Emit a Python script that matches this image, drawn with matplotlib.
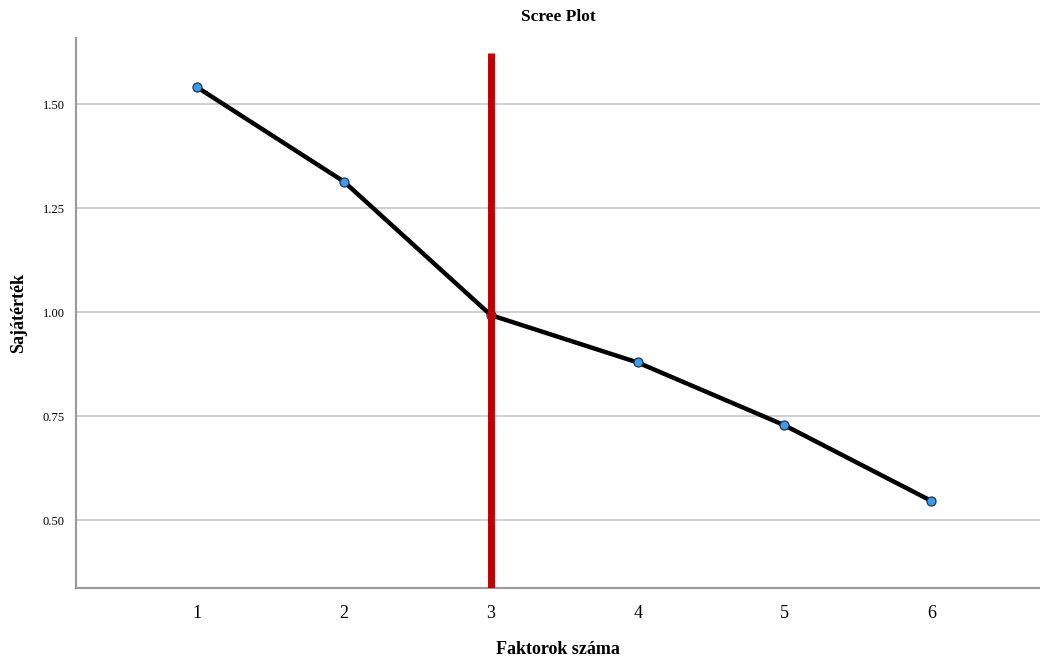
import matplotlib
matplotlib.use("Agg")
import matplotlib.pyplot as plt

factors = [1, 2, 3, 4, 5, 6]
eigenvalues = [1.541, 1.314, 0.993, 0.879, 0.728, 0.546]
cutoff_factor = 3
yticks = [0.50, 0.75, 1.00, 1.25, 1.50]
ytick_labels = ["0.50", "0.75", "1.00", "1.25", "1.50"]

plt.rcParams['font.family'] = ['Liberation Serif', 'DejaVu Serif']

fig = plt.figure(figsize=(10.4, 6.58), dpi=100)
ax = fig.add_axes([0.073, 0.106, 0.927, 0.836])

ax.set_xlim(0.175, 6.74)
ax.set_ylim(0.336, 1.659)

ax.set_yticks(yticks)
ax.set_yticklabels(ytick_labels, fontsize=9)
ax.set_xticks(factors)
ax.set_xticklabels([str(f) for f in factors], fontsize=13)
ax.tick_params(axis='both', length=0, pad=8)
ax.tick_params(axis='x', pad=12)

ax.grid(axis='y', color='#cccccc', linewidth=1.3)
ax.set_axisbelow(True)

for s in ['top', 'right']:
    ax.spines[s].set_visible(False)
for s in ['left', 'bottom']:
    ax.spines[s].set_color('#999999')
    ax.spines[s].set_linewidth(1.5)

ax.plot(factors, eigenvalues, color='black', linewidth=3.2, zorder=3,
        marker='o', markersize=6.5, markerfacecolor='#3d9be9',
        markeredgecolor='#1f3550', markeredgewidth=0.9)

ax.vlines(cutoff_factor, 0.336, 1.623, color='#c00000', linewidth=5, zorder=4)

ax.set_title("Scree Plot", fontsize=12.5, fontweight='bold', pad=12)
ax.set_ylabel("Sajátérték", fontsize=13, fontweight='bold')
ax.yaxis.set_label_coords(-0.051, 0.5)
ax.set_xlabel("Faktorok száma", fontsize=13, fontweight='bold', labelpad=14)

fig.savefig("out.png", dpi=100)
